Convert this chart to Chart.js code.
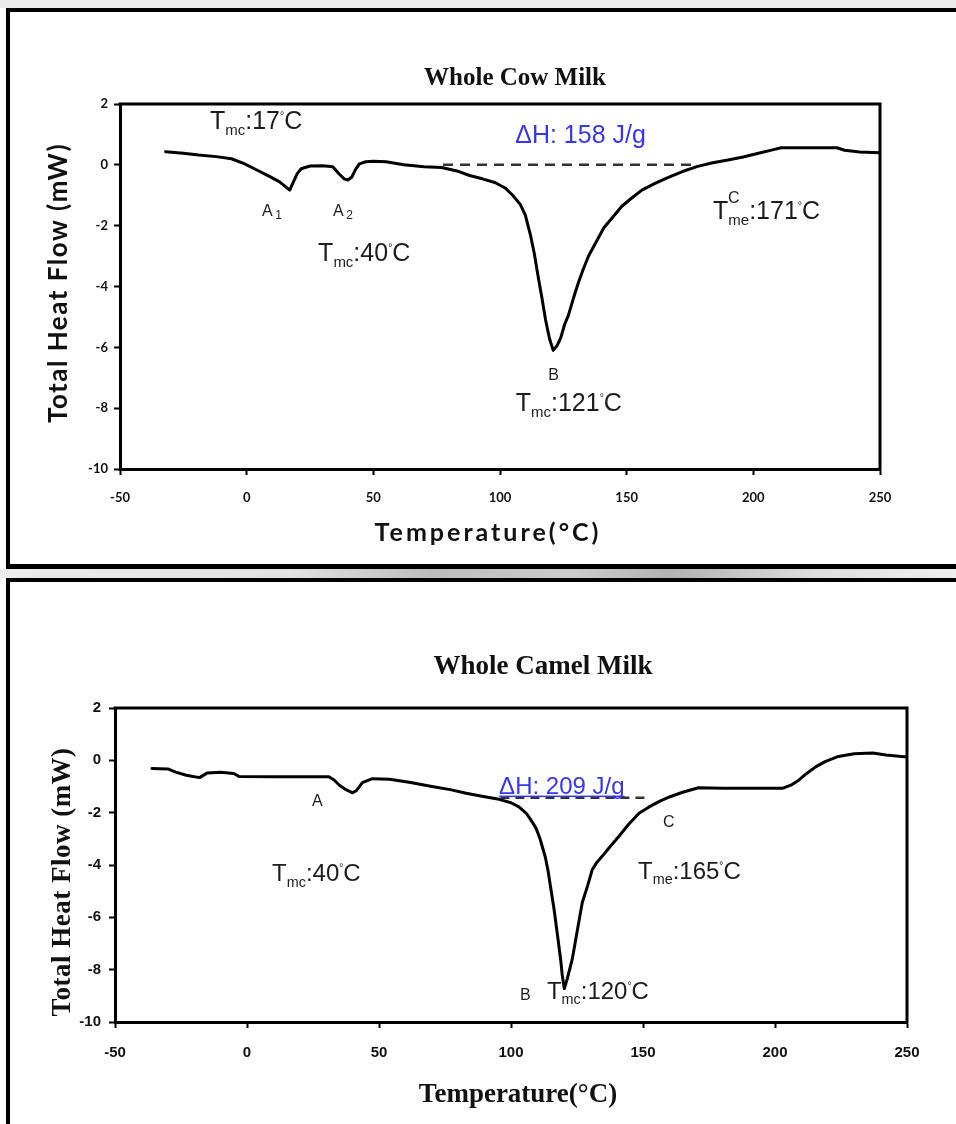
<!DOCTYPE html>
<html>
<head>
<meta charset="utf-8">
<title>DSC – whole cow and camel milk</title>
<script src="https://cdn.jsdelivr.net/npm/chart.js@4.4.0/dist/chart.umd.min.js"></script>
<style>
  html, body { margin: 0; padding: 0; background: #fff; }
  body { width: 956px; height: 1124px; position: relative; overflow: hidden; }
  .strip { position: absolute; left: 0; top: 0; width: 956px; height: 8px; background: #ebebeb; }
  .frame { position: absolute; border: 4px solid #000; box-sizing: border-box; }
  #frameCow { left: 6px; top: 8px; width: 990px; height: 561px; border-bottom-width: 5px; }
  #frameCamel { left: 6px; top: 578px; width: 990px; height: 600px; }
  #band {
    position: absolute; left: 0; top: 569px; width: 956px; height: 9px;
    background: linear-gradient(to right, #ececec 0%, #e2e2e2 30%, #bcbcbc 45%, #cccccc 60%, #b2b2b2 70%, #dedede 85%, #eeeeee 100%);
  }
  canvas { position: absolute; left: 0; }
  #cowChart { top: 0; }
  #camelChart { top: 580px; }
</style>
</head>
<body>
<div class="strip"></div>
<div class="frame" id="frameCow"></div>
<div id="band"></div>
<div class="frame" id="frameCamel"></div>
<canvas id="cowChart" width="956" height="560"></canvas>
<canvas id="camelChart" width="956" height="544"></canvas>

<script>
// --- eixos ---
const tempTicks = [-50, 0, 50, 100, 150, 200, 250];
const flowTicks = [-10, -8, -6, -4, -2, 0, 2];

// --- leite de vaca (temperatura °C / fluxo mW) ---
const cowTemp = [-32, -25, -19, -12, -6, -1, 4, 9, 13, 17, 18.5, 20, 21.5, 25, 30, 34, 36.5, 38.5, 40, 41.5, 43, 44.5, 47, 50, 55, 62, 70, 77,
  83, 88, 93, 98, 102, 105, 108, 110, 112, 113.5, 115, 116.5, 118, 119.5, 121, 122.5, 124, 125.5, 127, 129, 131, 133, 135, 138, 141,
  144, 148, 152, 156, 161, 166, 172, 178, 184, 190, 196, 202, 208, 211, 218, 226, 233, 236, 242, 250];
const cowFlow = [0.43, 0.38, 0.32, 0.27, 0.2, 0.04, -0.17, -0.38, -0.56, -0.83, -0.55, -0.28, -0.13, -0.04, -0.03, -0.06, -0.3, -0.46, -0.5, -0.4, -0.15, 0.03, 0.1, 0.12, 0.1, 0.0, -0.06, -0.09,
  -0.2, -0.35, -0.46, -0.58, -0.76, -1.0, -1.3, -1.65, -2.3, -2.9, -3.65, -4.35, -5.1, -5.7, -6.1, -5.95, -5.68, -5.25, -4.95, -4.38, -3.86, -3.4, -2.99, -2.53, -2.07,
  -1.77, -1.37, -1.09, -0.83, -0.62, -0.43, -0.22, -0.05, 0.07, 0.16, 0.26, 0.38, 0.5, 0.56, 0.56, 0.56, 0.56, 0.48, 0.42, 0.4];
const cowBaseTemp = [77.5, 178];
const cowBaseFlow = [0, 0];

// anotações: {sub} = subscrito, [sup] = sobrescrito
const cowNoteX = [-14.5, 6.1, 34.1, 28.2, 106, 190, 184.1, 119, 106.2];
const cowNoteY = [1.46, -1.49, -1.49, -2.87, 1.0, -1.06, -1.5, -6.87, -7.8];
const cowNoteText = ['T{mc}:17[°]C', 'A{1}', 'A{2}', 'T{mc}:40[°]C', 'ΔH: 158 J/g', 'C', 'T{me}:171[°]C', 'B', 'T{mc}:121[°]C'];

// --- leite de camela ---
const camelTemp = [-36, -30, -27, -23, -18, -15, -10, -5, -3, 10, 20, 31, 33, 35, 37.5, 40, 41.5, 43.7, 47.5, 54, 62, 70, 77, 83, 89, 95.5,
  100, 103, 106, 108, 109.5, 111, 112, 113, 114, 115, 116.3, 117.5, 118.8, 119.4, 120.2, 121.3, 123.2, 125, 127, 129, 130.8, 132.5,
  134.6, 137.5, 140.9, 144.5, 148.5, 152, 156, 160, 165, 171, 180, 190, 202.8, 206, 209, 212, 215.4, 219, 224, 230, 237, 242, 250];
const camelFlow = [-0.31, -0.33, -0.45, -0.57, -0.66, -0.48, -0.46, -0.5, -0.62, -0.63, -0.63, -0.63, -0.75, -0.95, -1.12, -1.24, -1.15, -0.85, -0.7, -0.72, -0.85, -1.0, -1.12, -1.26, -1.37, -1.49,
  -1.62, -1.78, -2.05, -2.35, -2.6, -3.0, -3.35, -3.7, -4.2, -4.85, -5.68, -6.6, -7.6, -8.2, -8.72, -8.35, -7.6, -6.57, -5.43, -4.8, -4.17, -3.9,
  -3.66, -3.3, -2.9, -2.45, -2.02, -1.8, -1.58, -1.4, -1.22, -1.05, -1.07, -1.07, -1.07, -0.95, -0.76, -0.5, -0.25, -0.05, 0.15, 0.25, 0.28, 0.2, 0.13];
const camelBaseTemp = [96, 152];
const camelBaseFlow = [-1.43, -1.43];

const camelNoteX = [24.6, 9.5, 95.5, 157.6, 148.1, 103.4, 113.6];
const camelNoteY = [-1.51, -4.3, -0.94, -2.31, -4.19, -8.93, -8.78];
const camelNoteText = ['A', 'T{mc}:40[°]C', 'ΔH: 209 J/g', 'C', 'T{me}:165[°]C', 'B', 'T{mc}:120[°]C'];

// --- fontes ---
const serif = "'Liberation Serif', 'Times New Roman', serif";
const sans = "'Liberation Sans', Arial, sans-serif";
const lato = "Lato, 'Open Sans', sans-serif";

const pares = (xs, ys) => xs.map((x, i) => ({ x, y: ys[i] }));

// quebra o texto em trechos normais / subscritos / sobrescritos
function parseRich(s) {
    const out = [];
    const re = /\{([^}]*)\}|\[([^\]]*)\]|([^{\[]+)/g;
    let m;
    while ((m = re.exec(s))) {
        if (m[1] !== undefined) out.push([m[1], 'sub']);
        else if (m[2] !== undefined) out.push([m[2], 'sup']);
        else out.push([m[3], '']);
    }
    return out;
}

function drawRich(ctx, x, y, s, size, color, subScale) {
    let cx = x;
    ctx.fillStyle = color;
    parseRich(s).forEach(([t, kind]) => {
        let fs = size, dy = 0;
        if (kind === 'sub') { fs = size * subScale; dy = size * 0.22; cx += size * (subScale > 0.65 ? 0.15 : 0); }
        if (kind === 'sup') { fs = size * 0.42; dy = -size * 0.42; }
        ctx.font = fs + 'px ' + sans;
        ctx.fillText(t, cx, y + dy);
        cx += ctx.measureText(t).width;
    });
    return cx - x;
}

// moldura do gráfico, títulos e anotações
const decor = {
    id: 'decor',
    afterDraw(chart, args, o) {
        const { ctx, chartArea: a } = chart;
        const xs = chart.scales.x, ys = chart.scales.y;
        ctx.save();
        ctx.strokeStyle = '#000';
        ctx.lineWidth = 3;
        ctx.beginPath();
        ctx.moveTo(a.left - 1.5, a.top);
        ctx.lineTo(a.right, a.top);
        ctx.lineTo(a.right, a.bottom + 1.5);
        ctx.stroke();

        ctx.fillStyle = '#111';
        ctx.textAlign = 'center';
        ctx.textBaseline = 'middle';
        ctx.font = o.title.font;
        ctx.fillText(o.title.text, o.title.x, o.title.y);

        ctx.letterSpacing = o.xTitle.spacing;
        ctx.font = o.xTitle.font;
        ctx.fillText(o.xTitle.text, o.xTitle.x, o.xTitle.y);

        ctx.save();
        ctx.letterSpacing = o.yTitle.spacing;
        ctx.font = o.yTitle.font;
        ctx.translate(o.yTitle.x, o.yTitle.y);
        ctx.rotate(-Math.PI / 2);
        ctx.fillText(o.yTitle.text, 0, 0);
        ctx.restore();

        ctx.letterSpacing = '0px';
        ctx.textAlign = 'left';
        ctx.textBaseline = 'alphabetic';
        o.notes.x.forEach((v, i) => {
            const txt = o.notes.text[i];
            const big = /^[TΔ]/.test(txt);
            const size = big ? o.noteSize : o.markSize;
            const delta = txt[0] === 'Δ';
            const px = xs.getPixelForValue(v);
            const py = ys.getPixelForValue(o.notes.y[i]) + size * 0.36;
            const w = drawRich(ctx, px, py, txt, size, delta ? '#3636f2' : '#1c1c1c', big ? 0.6 : 0.75);
            if (delta && o.underlineDelta) ctx.fillRect(px, py + 2, w, 1.5);
        });
        ctx.restore();
    }
};

function eixo(ticks, size, padding, tickFont) {
    return {
        type: 'linear',
        min: ticks[0],
        max: ticks[ticks.length - 1],
        afterBuildTicks: s => { s.ticks = ticks.map(value => ({ value })); },
        afterFit: s => { if (s.isHorizontal()) s.height = size; else s.width = size; },
        grid: { drawOnChartArea: false, drawTicks: true, tickLength: 6, tickWidth: 2, tickColor: '#000' },
        border: { display: true, color: '#000', width: 3 },
        ticks: { font: tickFont, color: '#111', padding, maxRotation: 0, autoSkip: false }
    };
}

function criarGrafico(id, o) {
    return new Chart(document.getElementById(id), {
        type: 'line',
        data: {
            datasets: [
                { data: pares(o.temp, o.flow), borderColor: '#000', borderWidth: 3, pointRadius: 0, tension: 0,
                  borderJoinStyle: 'round', borderCapStyle: 'round' },
                { data: pares(o.baseTemp, o.baseFlow), borderColor: '#333', borderWidth: 2.5, borderDash: o.dash, pointRadius: 0 }
            ]
        },
        options: {
            responsive: false,
            animation: false,
            devicePixelRatio: 1,
            layout: { padding: o.padding },
            plugins: { legend: { display: false }, tooltip: { enabled: false }, decor: o.decor },
            scales: {
                x: eixo(tempTicks, o.xHeight, o.xPad, o.tickFont),
                y: eixo(flowTicks, o.yWidth, o.yPad, o.tickFont)
            }
        },
        plugins: [decor]
    });
}

criarGrafico('cowChart', {
    temp: cowTemp, flow: cowFlow, baseTemp: cowBaseTemp, baseFlow: cowBaseFlow, dash: [10, 7],
    padding: { left: 10, top: 104, right: 76, bottom: 0 },
    yWidth: 110, xHeight: 91, xPad: 15, yPad: 6,
    tickFont: { family: lato, size: 13, weight: 'bold' },
    decor: {
        title: { text: 'Whole Cow Milk', x: 515, y: 79, font: `bold 25px ${serif}` },
        xTitle: { text: 'Temperature(°C)', x: 488, y: 533, font: `bold 25px ${lato}`, spacing: '3px' },
        yTitle: { text: 'Total Heat Flow (mW)', x: 59, y: 283, font: `bold 26px ${lato}`, spacing: '1.5px' },
        notes: { x: cowNoteX, y: cowNoteY, text: cowNoteText },
        noteSize: 25, markSize: 16, underlineDelta: false
    }
});

criarGrafico('camelChart', {
    temp: camelTemp, flow: camelFlow, baseTemp: camelBaseTemp, baseFlow: camelBaseFlow, dash: [9, 6],
    padding: { left: 10, top: 128, right: 49, bottom: 0 },
    yWidth: 105, xHeight: 102, xPad: 16, yPad: 8,
    tickFont: { family: sans, size: 15, weight: 'bold' },
    decor: {
        title: { text: 'Whole Camel Milk', x: 543, y: 87, font: `bold 27px ${serif}` },
        xTitle: { text: 'Temperature(°C)', x: 518, y: 515, font: `bold 27px ${serif}`, spacing: '0px' },
        yTitle: { text: 'Total Heat Flow (mW)', x: 63, y: 302, font: `bold 27px ${serif}`, spacing: '0.5px' },
        notes: { x: camelNoteX, y: camelNoteY, text: camelNoteText },
        noteSize: 24, markSize: 16, underlineDelta: true
    }
});
</script>
</body>
</html>
